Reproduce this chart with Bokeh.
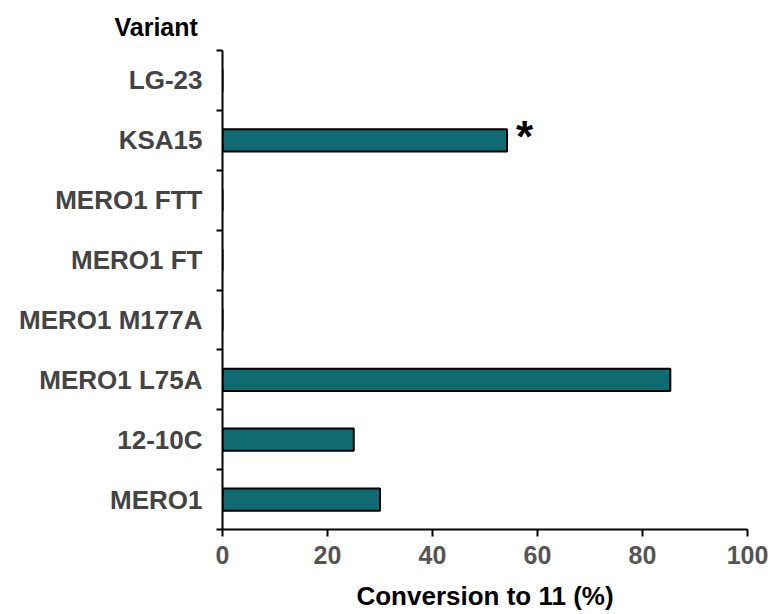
from bokeh.plotting import figure
from bokeh.models import Range1d, FixedTicker, Title, ColumnDataSource
from bokeh.core.properties import value
from bokeh.embed import file_html
from bokeh.resources import INLINE

# Data (bottom to top)
categories = ["MERO1", "12-10C", "MERO1 L75A", "MERO1 M177A",
              "MERO1 FT", "MERO1 FTT", "KSA15", "LG-23"]
conversion = [30, 25, 85.3, 0, 0, 0, 54.2, 0]
significant = ["", "", "", "", "", "", "*", ""]
x_ticks = [0, 20, 40, 60, 80, 100]

FONT = "Liberation Sans"
BAR = "#0f6a72"

n = len(categories)
centers = [i + 0.5 for i in range(n)]
src = ColumnDataSource(dict(y=centers, v=conversion, star=significant, cat=categories))

p = figure(width=768, height=614, output_backend="svg", toolbar_location=None,
           x_range=Range1d(0, 100), y_range=Range1d(0, n),
           min_border_left=222, min_border_right=21,
           min_border_top=50, min_border_bottom=85)
p.outline_line_color = None
p.xgrid.visible = False
p.ygrid.visible = False
p.background_fill_color = "white"

p.hbar(y="y", left=0, right="v", height=0.37, source=src,
       fill_color=BAR, line_color="black", line_width=2)

p.text(x="v", y="y", text="star", source=src, x_offset=9, y_offset=-4,
       text_font=value(FONT), text_font_style="bold", text_font_size="44px",
       text_color="black", text_align="left", text_baseline="middle")

# x axis
xa = p.xaxis[0]
xa.ticker = FixedTicker(ticks=x_ticks)
xa.axis_line_width = 2
xa.axis_line_color = "black"
xa.major_tick_line_width = 2
xa.major_tick_out = 7
xa.major_tick_in = 0
xa.minor_tick_line_color = None
xa.major_label_text_font = FONT
xa.major_label_text_font_style = "bold"
xa.major_label_text_font_size = "25px"
xa.major_label_text_color = "#555555"
xa.major_label_standoff = 9
xa.axis_label = "Conversion to 11 (%)"
xa.axis_label_text_font = FONT
xa.axis_label_text_font_style = "bold"
xa.axis_label_text_font_size = "26px"
xa.axis_label_text_color = "black"
xa.axis_label_standoff = 14

# y axis: labels at centers, ticks at boundaries
ya = p.yaxis[0]
ya.ticker = FixedTicker(ticks=centers, minor_ticks=list(range(n + 1)))
ya.major_label_overrides = {c: lab for c, lab in zip(centers, categories)}
ya.axis_line_width = 2
ya.axis_line_color = "black"
ya.major_tick_line_color = None
ya.major_tick_out = 0
ya.major_tick_in = 0
ya.minor_tick_line_width = 2
ya.minor_tick_line_color = "black"
ya.minor_tick_out = 6
ya.minor_tick_in = 0
ya.major_label_text_font = FONT
ya.major_label_text_font_style = "bold"
ya.major_label_text_font_size = "26px"
ya.major_label_text_color = "#444444"
ya.major_label_standoff = 14

p.add_layout(Title(text="Variant", align="left", offset=-108,
                   text_font=FONT, text_font_style="bold",
                   text_font_size="25px", text_color="black", standoff=19), "above")

open("out.html", "w").write(file_html(p, INLINE))
